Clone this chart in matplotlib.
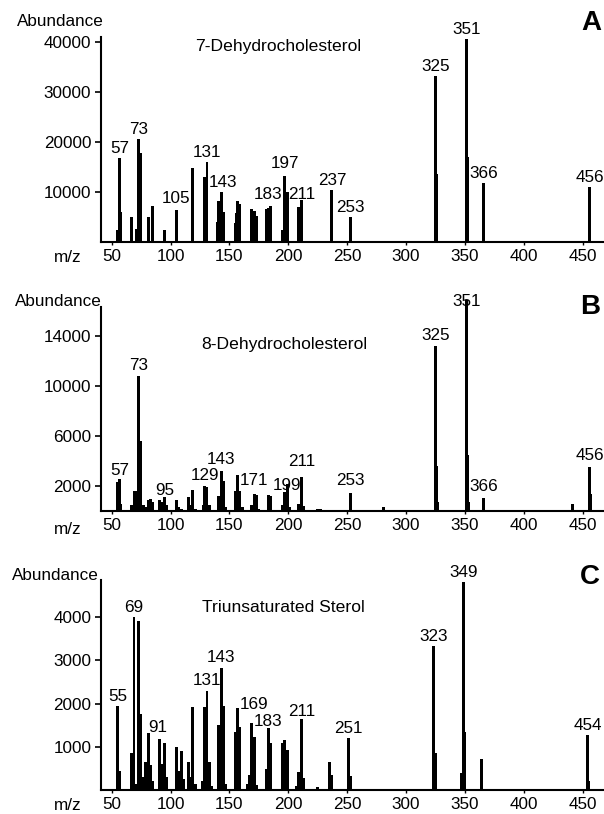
import matplotlib
matplotlib.use("Agg")
import matplotlib.pyplot as plt

plt.rcParams['font.family'] = ['Liberation Sans', 'DejaVu Sans']

# ---------------- data ----------------
# Panel A: 7-Dehydrocholesterol
mz_a = [55, 57, 58, 67, 71, 73, 75, 81, 85, 95, 105, 119, 129, 131, 140, 141, 143, 145,
        155, 156, 157, 159, 169, 171, 173, 181, 183, 185, 195, 197, 199, 209, 211,
        237, 253, 325, 326, 351, 352, 366, 456]
ab_a = [2400, 16800, 6000, 5000, 2600, 20600, 17800, 5000, 7300, 2400, 6500, 14800, 13100, 16100,
        4000, 8200, 10000, 6000, 3900, 5900, 8300, 7700, 6600, 6200, 5200, 6600, 6800, 7300,
        2500, 13200, 10000, 7000, 8400, 10400, 5100, 33200, 13700, 40700, 17100, 11900, 11100]
labels_a = [57, 73, 105, 131, 143, 183, 197, 211, 237, 253, 325, 351, 366, 456]

# Panel B: 8-Dehydrocholesterol
mz_b = [55, 57, 58, 67, 69, 71, 73, 75, 77, 79, 81, 83, 85, 91, 93, 95, 97, 105, 107, 109,
        115, 117, 119, 121, 128, 129, 131, 133, 141, 143, 145, 147, 155, 157, 159, 161,
        169, 171, 173, 175, 183, 185, 195, 197, 199, 201, 209, 211, 213, 225, 227, 239,
        253, 281, 325, 326, 327, 351, 352, 353, 366, 441, 456, 457]
ab_b = [2300, 2600, 600, 500, 1600, 1600, 10800, 5600, 500, 300, 900, 1000, 700, 900, 700,
        1100, 500, 900, 300, 200, 1100, 500, 1700, 200, 500, 2000, 1900, 500, 1200, 3200,
        2400, 300, 1600, 2900, 1600, 300, 500, 1400, 1300, 200, 1300, 1200, 500, 1500, 2200,
        300, 600, 2750, 400, 200, 150, 100, 1450, 300, 13200, 3600, 700, 16900, 4500, 700,
        1070, 530, 3550, 1400]
labels_b = [57, 73, 95, 129, 143, 171, 199, 211, 253, 325, 351, 366, 456]

# Panel C: Triunsaturated Sterol
mz_c = [55, 57, 67, 69, 71, 73, 75, 77, 79, 81, 83, 85, 91, 93, 95, 97, 105, 107, 109, 111,
        115, 117, 119, 121, 127, 129, 131, 133, 135, 141, 143, 145, 147, 155, 157, 159,
        165, 167, 169, 171, 173, 181, 183, 185, 195, 197, 199, 207, 209, 211, 213, 225,
        235, 237, 251, 253, 323, 325, 347, 349, 350, 364, 454, 455]
ab_c = [1950, 430, 850, 4000, 150, 3920, 1770, 300, 650, 1330, 580, 200, 1190, 600, 1080, 300,
        1000, 450, 900, 250, 650, 300, 1920, 150, 200, 1910, 2280, 640, 100, 1505, 2815,
        1950, 150, 1350, 1890, 1450, 150, 340, 1560, 1235, 120, 480, 1430, 1080, 1080,
        1160, 925, 100, 420, 1636, 270, 80, 655, 347, 1212, 320, 3333, 850, 385, 4822,
        1350, 710, 1273, 215]
labels_c = [55, 69, 91, 131, 143, 169, 183, 211, 251, 323, 349, 454]

titles = ["7-Dehydrocholesterol", "8-Dehydrocholesterol", "Triunsaturated Sterol"]
letters = ["A", "B", "C"]
yticks_a = [10000, 20000, 30000, 40000]
yticks_b = [2000, 6000, 10000, 14000]
yticks_c = [1000, 2000, 3000, 4000]
xticks = [50, 100, 150, 200, 250, 300, 350, 400, 450]

# ---------------- layout / style ----------------
W, H = 604, 814
fig = plt.figure(figsize=(W / 100, H / 100), dpi=100)
FS = 12.3
FS_TITLE = 12.6

# label gap (pixels, from bar top to label centre), per-label overrides
gap_default = [9.5, 11.0, 9.5]
gap_special = [
    {105: 11, 183: 14, 197: 13, 211: 5.5},
    {57: 8, 95: 7, 143: 12, 171: 13, 199: -2, 211: 15.5, 351: -2, 253: 12},
    {91: 11.5, 131: 11, 143: 11, 169: 18, 183: 6.7, 211: 7.6},
]
dx_special = [{143: 2}, {}, {91: -2, 169: 2}]

panels = [
    dict(mz=mz_a, ab=ab_a, labels=labels_a, yticks=yticks_a,
         top=37, bottom=242, ytop=41000, spine_top=41000,
         title_xy=(278, 47), letter_xy=(591, 23), abund_xy=(17, 22), mz_y=257),
    dict(mz=mz_b, ab=ab_b, labels=labels_b, yticks=yticks_b,
         top=300, bottom=511, ytop=16900, spine_top=16300,
         title_xy=(284, 345), letter_xy=(590, 307), abund_xy=(15, 302), mz_y=529),
    dict(mz=mz_c, ab=ab_c, labels=labels_c, yticks=yticks_c,
         top=580, bottom=790, ytop=4860, spine_top=4860,
         title_xy=(283, 607), letter_xy=(590, 577), abund_xy=(12, 575), mz_y=805),
]

LEFT, RIGHT = 101, 604
XLIM = (41, 468)

for i, p in enumerate(panels):
    ax = fig.add_axes([LEFT / W, 1 - p['bottom'] / H, (RIGHT - LEFT) / W,
                       (p['bottom'] - p['top']) / H])
    ax.bar(p['mz'], p['ab'], width=2.4, color='black', linewidth=0)
    ax.set_xlim(*XLIM)
    ax.set_ylim(0, p['ytop'])
    ax.set_yticks(p['yticks'])
    ax.set_yticklabels([str(v) for v in p['yticks']])
    ax.set_xticks(xticks)
    ax.set_xticklabels([str(v) for v in xticks])
    for s in ['top', 'right']:
        ax.spines[s].set_visible(False)
    ax.spines['left'].set_linewidth(1.5)
    ax.spines['bottom'].set_linewidth(1.5)
    ax.spines['left'].set_bounds(0, p['spine_top'])
    ax.tick_params(axis='y', length=4.5, width=1.2, pad=2.5, labelsize=FS, direction='out')
    ax.tick_params(axis='x', length=2, width=1.0, pad=3.0, labelsize=FS, direction='out')
    ax.patch.set_alpha(0)

    lookup = dict(zip(p['mz'], p['ab']))
    for m in p['labels']:
        g = gap_special[i].get(m, gap_default[i])
        dx = dx_special[i].get(m, 0)
        ax.annotate(str(m), xy=(m, lookup[m]), xytext=(dx * 0.72, g * 0.72),
                    textcoords='offset points', ha='center', va='center',
                    fontsize=FS, annotation_clip=False)

    tx, ty = p['title_xy']
    fig.text(tx / W, 1 - ty / H, titles[i], ha='center', va='center', fontsize=FS_TITLE)
    lx, ly = p['letter_xy']
    fig.text(lx / W, 1 - ly / H, letters[i], ha='center', va='center',
             fontsize=20, fontweight='bold')
    axx, axy = p['abund_xy']
    fig.text(axx / W, 1 - axy / H, "Abundance", ha='left', va='center', fontsize=FS)
    fig.text(67.5 / W, 1 - p['mz_y'] / H, "m/z", ha='center', va='center', fontsize=FS)

fig.savefig("out.png", dpi=100)
